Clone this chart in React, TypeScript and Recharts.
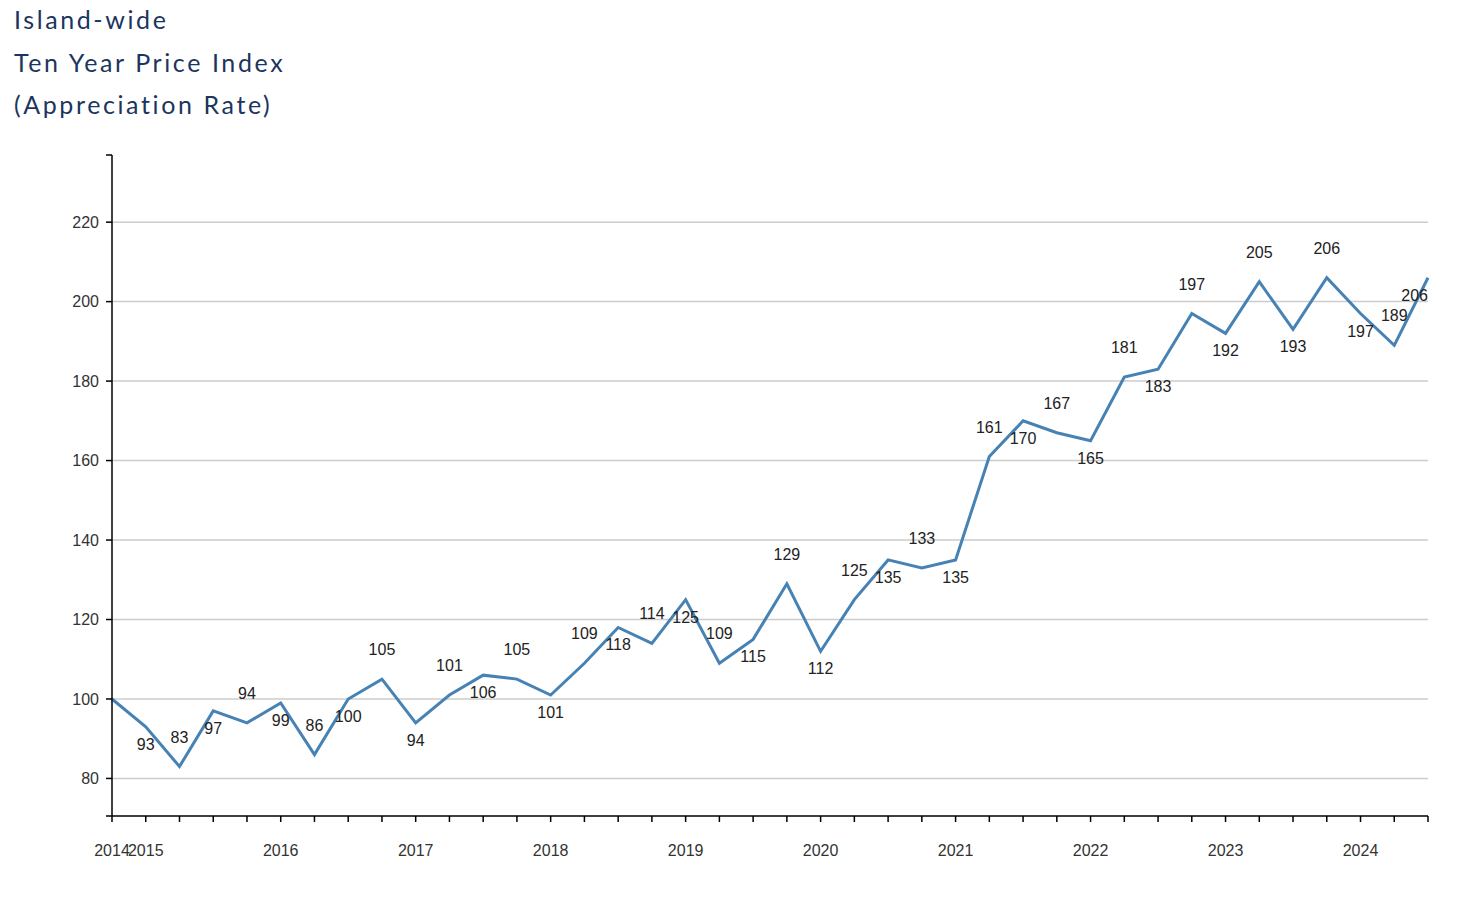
import { LineChart, Line, XAxis, YAxis, CartesianGrid, LabelList } from 'recharts';

const quarters = [
  '2014 Q4',
  '2015 Q1', '2015 Q2', '2015 Q3', '2015 Q4',
  '2016 Q1', '2016 Q2', '2016 Q3', '2016 Q4',
  '2017 Q1', '2017 Q2', '2017 Q3', '2017 Q4',
  '2018 Q1', '2018 Q2', '2018 Q3', '2018 Q4',
  '2019 Q1', '2019 Q2', '2019 Q3', '2019 Q4',
  '2020 Q1', '2020 Q2', '2020 Q3', '2020 Q4',
  '2021 Q1', '2021 Q2', '2021 Q3', '2021 Q4',
  '2022 Q1', '2022 Q2', '2022 Q3', '2022 Q4',
  '2023 Q1', '2023 Q2', '2023 Q3', '2023 Q4',
  '2024 Q1', '2024 Q2', '2024 Q3',
];

const indexValues = [
  100,
  93, 83, 97, 94,
  99, 86, 100, 105,
  94, 101, 106, 105,
  101, 109, 118, 114,
  125, 109, 115, 129,
  112, 125, 135, 133,
  135, 161, 170, 167,
  165, 181, 183, 197,
  192, 205, 193, 206,
  197, 189, 206,
];

const yTicks = [80, 100, 120, 140, 160, 180, 200, 220];
const yDomain = [70.55, 236.9];

const titleLines = ['Island-wide', 'Ten Year Price Index', '(Appreciation Rate)'];

const chartData = quarters.map((q, i) => ({ name: q, value: indexValues[i] }));

const font = '"Liberation Sans", Arial, sans-serif';

// years on Q1, plus the very first point
const xTickFormat = (q: string, i: number) =>
  i === 0 || q.endsWith('Q1') ? q.slice(0, 4) : '';

const renderLabel = (props: any) => {
  const { x, y, value, index } = props;
  if (index === 0) return null;
  const last = index === indexValues.length - 1;
  const above = index % 2 === 0;
  return (
    <text
      x={x}
      y={above ? y - 24 : y + 23}
      textAnchor={last ? 'end' : 'middle'}
      fontSize={16}
      fontFamily={font}
      fill="#222"
    >
      {value}
    </text>
  );
};

export default function App() {
  return (
    <div style={{ position: 'relative', width: 1464, height: 888 }}>
      <div
        style={{
          position: 'absolute',
          left: 6,
          top: -10,
          fontFamily: 'Lato, sans-serif',
          fontSize: 25,
          lineHeight: '42.5px',
          letterSpacing: 2.6,
          color: '#1c355e',
        }}
      >
        {titleLines.map((t) => (
          <div key={t}>{t}</div>
        ))}
      </div>
      <LineChart
        width={1464}
        height={888}
        data={chartData}
        margin={{ top: 147, right: 44, bottom: 30, left: 44 }}
      >
        <CartesianGrid
          vertical={false}
          horizontalValues={yTicks}
          stroke="#cccccc"
          strokeWidth={1.5}
        />
        <XAxis
          dataKey="name"
          interval={0}
          tickFormatter={xTickFormat}
          height={50}
          tickSize={6}
          tickMargin={23}
          axisLine={{ stroke: '#000', strokeWidth: 1.5 }}
          tickLine={{ stroke: '#000', strokeWidth: 1.5 }}
          tick={{ fill: '#333', fontSize: 16, fontFamily: font }}
        />
        <YAxis
          type="number"
          domain={yDomain}
          ticks={[yDomain[0], ...yTicks, yDomain[1]]}
          tickFormatter={(v: number) => (yTicks.includes(v) ? String(v) : '')}
          width={60}
          tickSize={6}
          tickMargin={7}
          axisLine={{ stroke: '#000', strokeWidth: 1.5 }}
          tickLine={{ stroke: '#000', strokeWidth: 1.5 }}
          tick={{ fill: '#333', fontSize: 16, fontFamily: font }}
        />
        <Line
          type="linear"
          dataKey="value"
          stroke="#4682b4"
          strokeWidth={3}
          dot={false}
          activeDot={false}
          isAnimationActive={false}
        >
          <LabelList dataKey="value" content={renderLabel} />
        </Line>
      </LineChart>
    </div>
  );
}
